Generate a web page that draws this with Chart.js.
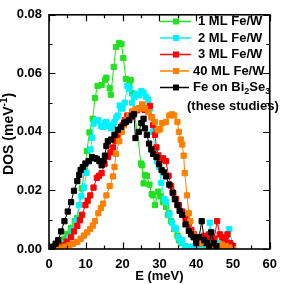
<!DOCTYPE html>
<html>
<head>
<meta charset="utf-8">
<script src="https://cdn.jsdelivr.net/npm/chart.js@4/dist/chart.umd.min.js"></script>
<style>
  html, body { margin: 0; padding: 0; background: #fff; }
  canvas { display: block; }
</style>
</head>
<body>
<canvas id="dosChart" width="285" height="284"></canvas>
<script>
// energies (meV) and DOS (meV^-1), one pair of arrays per curve
const e1ML = [0, 1, 2, 3, 4, 5, 6, 7, 7.7, 8.9, 9.7, 10.3, 11, 11.9, 12.5, 13.2, 14.3, 15.2, 15.6, 16.5, 16.8, 17.6, 18.2, 19.1, 19.7, 20.2, 20.9, 21.8, 22.2, 22.6, 25, 25.3, 25.7, 26.1, 26.6, 27.3, 27.9, 28.3, 28.8, 29.7, 30.3, 31, 31.8, 32.3, 32.7, 33.2, 34, 34.9, 35.3, 36, 37, 38, 39, 40, 41, 42, 43, 44, 45, 46, 47, 48, 49, 50];
const dos1ML = [0, 0.0003, 0.001, 0.002, 0.0035, 0.0052, 0.0072, 0.0095, 0.0106, 0.0207, 0.027, 0.0335, 0.0398, 0.0445, 0.0516, 0.0557, 0.056, 0.0578, 0.0585, 0.0549, 0.0527, 0.0622, 0.069, 0.0704, 0.070, 0.0652, 0.0581, 0.056, 0.0577, 0.0532, 0.0292, 0.0286, 0.0224, 0.0253, 0.0249, 0.022, 0.0188, 0.0183, 0.015, 0.0196, 0.018, 0.016, 0.0144, 0.0117, 0.0122, 0.0095, 0.0068, 0.0046, 0.003, 0.002, 0.001, 0.0005, 0.0003, 0, 0.0005, 0.0003, 0, 0.0005, 0.0008, 0.0005, 0.001, 0.0008, 0.0015, 0.001];

const e2ML = [0, 1, 2, 3, 4.3, 5.5, 6.4, 7.3, 8.2, 8.8, 9.5, 10.2, 10.8, 11.3, 11.7, 12.1, 12.8, 13.4, 14.1, 14.7, 15.2, 15.6, 16.3, 16.9, 17.4, 17.8, 18.3, 18.7, 19.2, 19.6, 20, 20.6, 21.3, 21.9, 22.6, 23.2, 23.8, 24.5, 25.1, 25.7, 26.3, 26.9, 27.5, 28.2, 28.8, 29.4, 30, 30.5, 31.4, 31.8, 32.7, 33.4, 34, 34.5, 35.2, 35.8, 36.2, 37, 38, 39, 40, 41, 42, 43, 43.7, 44.5, 45, 46, 47, 48, 49, 50];
const dos2ML = [0, 0.0002, 0.0006, 0.0012, 0.002, 0.004, 0.0065, 0.0095, 0.015, 0.018, 0.021, 0.026, 0.030, 0.034, 0.038, 0.0428, 0.044, 0.0439, 0.042, 0.0417, 0.043, 0.0434, 0.042, 0.0412, 0.0425, 0.0434, 0.045, 0.0456, 0.049, 0.048, 0.048, 0.050, 0.0557, 0.0548, 0.050, 0.052, 0.053, 0.0525, 0.054, 0.0534, 0.052, 0.051, 0.048, 0.040, 0.034, 0.030, 0.028, 0.0226, 0.017, 0.016, 0.0118, 0.009, 0.0073, 0.0069, 0.004, 0.0024, 0.003, 0.001, 0.0005, 0.0008, 0.0005, 0.001, 0.0025, 0.0015, 0.009, 0.002, 0.0035, 0.002, 0.002, 0.0025, 0.0068, 0.001];

const e3ML = [0, 1, 2, 3, 3.8, 4.8, 6, 6.8, 7.7, 8.4, 9, 9.9, 10.5, 11.2, 12.1, 13, 13.6, 14.3, 15.1, 16, 16.7, 17.4, 18, 18.7, 19.4, 20, 20.6, 21.3, 22.2, 23.1, 23.9, 24.6, 25.3, 26, 26.7, 27.4, 27.9, 28.3, 28.8, 29.2, 29.7, 30.1, 31, 31.8, 32.5, 33.2, 33.8, 34.5, 35.3, 36.2, 37.1, 38, 38.7, 39.3, 40, 40.7, 41.4, 42.1, 42.8, 43.5, 44.2, 44.9, 45.7, 46.4, 47.1, 47.8, 48.5, 49.2, 50];
const dos3ML = [0, 0.0002, 0.0005, 0.001, 0.0013, 0.0025, 0.004, 0.006, 0.0079, 0.0098, 0.0117, 0.015, 0.0165, 0.0183, 0.021, 0.0243, 0.025, 0.0259, 0.029, 0.0314, 0.033, 0.0347, 0.037, 0.039, 0.041, 0.0423, 0.044, 0.0456, 0.045, 0.0461, 0.0474, 0.048, 0.049, 0.0475, 0.048, 0.0489, 0.045, 0.0423, 0.039, 0.0347, 0.032, 0.0303, 0.031, 0.030, 0.025, 0.0215, 0.019, 0.0171, 0.015, 0.0128, 0.0105, 0.0084, 0.0065, 0.0051, 0.003, 0.004, 0.002, 0.0045, 0.003, 0.005, 0.004, 0.0035, 0.0095, 0.005, 0.004, 0.003, 0.005, 0.002, 0.001];

const e40ML = [0, 1.6, 3, 4.3, 5.5, 6.6, 7.7, 8.6, 9.5, 10.4, 11.2, 11.9, 12.5, 13.4, 14.1, 14.7, 15.6, 16.5, 17.4, 17.8, 18.2, 19.1, 19.8, 20.4, 21.1, 21.8, 22.6, 23.5, 24.4, 25.3, 26.1, 27, 27.9, 28.8, 29.6, 30.2, 30.8, 31.8, 32.7, 33.4, 34, 34.9, 35.3, 35.8, 36.2, 36.6, 36.9, 37.5, 38, 38.4, 39, 40, 41, 42, 43, 44, 45, 46, 47, 48, 49, 50];
const dos40ML = [0, 0.0001, 0.0004, 0.0008, 0.0013, 0.0018, 0.0024, 0.0035, 0.0046, 0.0057, 0.0068, 0.008, 0.0095, 0.0122, 0.014, 0.0155, 0.0183, 0.0215, 0.0248, 0.028, 0.0325, 0.0368, 0.040, 0.0423, 0.044, 0.0456, 0.047, 0.0478, 0.048, 0.0494, 0.048, 0.0467, 0.045, 0.0434, 0.0405, 0.041, 0.043, 0.0434, 0.0456, 0.046, 0.0456, 0.0434, 0.040, 0.0374, 0.0357, 0.0319, 0.0259, 0.0183, 0.0122, 0.0095, 0.005, 0.003, 0.002, 0.0025, 0.002, 0.0015, 0.002, 0.001, 0.0015, 0.001, 0.0005, 0];

const eBiSe = [0, 0.6, 1.1, 1.8, 2.5, 3.3, 4.2, 5.1, 6, 6.8, 7.7, 8.2, 8.6, 9.2, 9.9, 10.8, 11.7, 12.4, 13, 13.7, 14.3, 14.8, 15.2, 15.6, 16, 16.9, 17.8, 18.7, 19.6, 20.4, 20.9, 21.8, 22.5, 23.1, 23.5, 24.4, 25.1, 25.7, 26.1, 26.6, 27.2, 27.8, 28.3, 29.2, 29.9, 30.6, 31.2, 31.8, 32.7, 33.6, 34.2, 34.9, 35.5, 36.2, 37.1, 38, 38.6, 39.3, 40, 40.8, 41.5, 42.2, 42.9, 43.5, 44.1, 44.8, 45.5];
const dosBiSe = [0, 0.0003, 0.0008, 0.0018, 0.003, 0.006, 0.0095, 0.0128, 0.016, 0.0199, 0.0232, 0.0253, 0.027, 0.028, 0.0292, 0.030, 0.0314, 0.031, 0.0308, 0.030, 0.0286, 0.030, 0.0319, 0.0352, 0.0368, 0.0374, 0.039, 0.0407, 0.0417, 0.043, 0.0434, 0.044, 0.0455, 0.046, 0.0379, 0.040, 0.043, 0.0445, 0.0412, 0.039, 0.036, 0.034, 0.0325, 0.0314, 0.029, 0.027, 0.0262, 0.0248, 0.022, 0.0193, 0.017, 0.015, 0.013, 0.0117, 0.0084, 0.0062, 0.005, 0.004, 0.002, 0.004, 0.0095, 0.003, 0.002, 0.001, 0.0057, 0.002, 0.001];

const seriesNames = ["1 ML Fe/W", "2 ML Fe/W", "3 ML Fe/W", "40 ML Fe/W", "Fe on Bi2Se3"];
const seriesColors = ["#22e022", "#00f2ff", "#ff0000", "#ff8000", "#000000"];
const xTicks = [0, 10, 20, 30, 40, 50, 60];
const yTicks = [0.00, 0.02, 0.04, 0.06, 0.08];

const FONT = "'Liberation Sans', Arial, sans-serif";

function toPoints(xs, ys) {
    return xs.map((x, i) => ({ x: x, y: ys[i] }));
}

const allX = [e1ML, e2ML, e3ML, e40ML, eBiSe];
const allY = [dos1ML, dos2ML, dos3ML, dos40ML, dosBiSe];
const drawOrder = [5, 4, 3, 2, 1]; // black on top, green at the back

const datasets = seriesNames.map((name, i) => ({
    label: name,
    data: toPoints(allX[i], allY[i]),
    borderColor: seriesColors[i],
    backgroundColor: seriesColors[i],
    borderWidth: 1,
    pointStyle: "rect",
    pointRadius: 3.7,
    pointBorderWidth: 1,
    pointHoverRadius: 3.7,
    showLine: true,
    tension: 0,
    order: drawOrder[i]
}));

// writes text with subscript/superscript parts: [{t, sub}, {t, sup}]
function richText(ctx, parts, x, y, size) {
    let cx = x;
    parts.forEach(p => {
        const small = p.sub || p.sup;
        ctx.font = "bold " + (small ? Math.round(size * 0.68) : size) + "px " + FONT;
        const dy = p.sub ? size * 0.3 : (p.sup ? -size * 0.35 : 0);
        ctx.fillText(p.t, cx, y + dy);
        cx += ctx.measureText(p.t).width;
    });
    return cx - x;
}

function richWidth(ctx, parts, size) {
    let w = 0;
    parts.forEach(p => {
        const small = p.sub || p.sup;
        ctx.font = "bold " + (small ? Math.round(size * 0.68) : size) + "px " + FONT;
        w += ctx.measureText(p.t).width;
    });
    return w;
}

const framePlugin = {
    id: "frame",
    afterDatasetsDraw(chart) {
        const ctx = chart.ctx;
        const a = chart.chartArea;
        const xs = chart.scales.x, ys = chart.scales.y;
        ctx.save();
        ctx.strokeStyle = "#000";
        ctx.lineWidth = 1.6;
        ctx.strokeRect(a.left, a.top, a.right - a.left, a.bottom - a.top);

        // inward ticks on all four sides
        ctx.lineWidth = 1.2;
        ctx.beginPath();
        for (let v = 0; v <= 60; v += 5) {
            const px = Math.round(xs.getPixelForValue(v)) + 0.5;
            const len = v % 10 === 0 ? 6.5 : 3.5;
            ctx.moveTo(px, a.bottom); ctx.lineTo(px, a.bottom - len);
            ctx.moveTo(px, a.top); ctx.lineTo(px, a.top + len);
        }
        for (let k = 0; k <= 8; k++) {
            const v = k * 0.01;
            const py = Math.round(ys.getPixelForValue(v)) + 0.5;
            const len = k % 2 === 0 ? 6.5 : 3.5;
            ctx.moveTo(a.left, py); ctx.lineTo(a.left + len, py);
            ctx.moveTo(a.right, py); ctx.lineTo(a.right - len, py);
        }
        ctx.stroke();

        // axis titles
        ctx.fillStyle = "#000";
        ctx.textBaseline = "middle";
        ctx.textAlign = "center";
        ctx.font = "bold 13px " + FONT;
        ctx.fillText("E (meV)", (a.left + a.right) / 2, 276.5);

        const yParts = [{ t: "DOS (meV" }, { t: "-1", sup: true }, { t: ")" }];
        ctx.textAlign = "left";
        ctx.translate(9, (a.top + a.bottom) / 2 + 2);
        ctx.rotate(-Math.PI / 2);
        const w = richWidth(ctx, yParts, 14);
        richText(ctx, yParts, -w / 2, 0, 14);
        ctx.restore();

        // legend inside the plot, top right
        ctx.save();
        ctx.textBaseline = "middle";
        ctx.textAlign = "left";
        ctx.fillStyle = "#000";
        const rowY = [21.5, 38, 54.5, 71, 87.5];
        seriesNames.forEach((name, i) => {
            const y = rowY[i];
            const tx = i >= 3 ? 193 : 198;
            ctx.strokeStyle = seriesColors[i];
            ctx.lineWidth = 1.5;
            ctx.beginPath();
            ctx.moveTo(160, y); ctx.lineTo(i >= 3 ? 189 : 191, y);
            ctx.stroke();
            ctx.fillStyle = seriesColors[i];
            ctx.fillRect(173, y - 3, 6, 6);
            ctx.fillStyle = "#000";
            if (i === 4) {
                richText(ctx, [{ t: "Fe on Bi" }, { t: "2", sub: true }, { t: "Se" }, { t: "3", sub: true }], tx, y, 13);
            } else {
                ctx.font = "bold 13px " + FONT;
                ctx.fillText(name, tx, y);
            }
        });
        ctx.font = "bold 13px " + FONT;
        ctx.fillText("(these studies)", 187, 106);
        ctx.restore();
    }
};

const ctx = document.getElementById("dosChart").getContext("2d");
new Chart(ctx, {
    type: "scatter",
    data: { datasets: datasets },
    options: {
        responsive: false,
        animation: false,
        events: [],
        layout: { padding: { top: 5, right: 7, left: 0, bottom: 0 } },
        plugins: {
            legend: { display: false },
            tooltip: { enabled: false }
        },
        scales: {
            x: {
                type: "linear",
                min: 0,
                max: 60,
                afterFit: scale => { scale.height = 35; },
                afterBuildTicks: scale => { scale.ticks = xTicks.map(v => ({ value: v })); },
                grid: { display: false, drawTicks: false },
                border: { display: false },
                ticks: {
                    color: "#000",
                    padding: 8,
                    maxRotation: 0,
                    font: { family: FONT, size: 13, weight: "bold" }
                }
            },
            y: {
                type: "linear",
                min: 0,
                max: 0.08,
                afterFit: scale => { scale.width = 49; },
                afterBuildTicks: scale => { scale.ticks = yTicks.map(v => ({ value: v })); },
                grid: { display: false, drawTicks: false },
                border: { display: false },
                ticks: {
                    color: "#000",
                    padding: 7,
                    font: { family: FONT, size: 13, weight: "bold" },
                    callback: v => v.toFixed(2)
                }
            }
        }
    },
    plugins: [framePlugin]
});
</script>
</body>
</html>
